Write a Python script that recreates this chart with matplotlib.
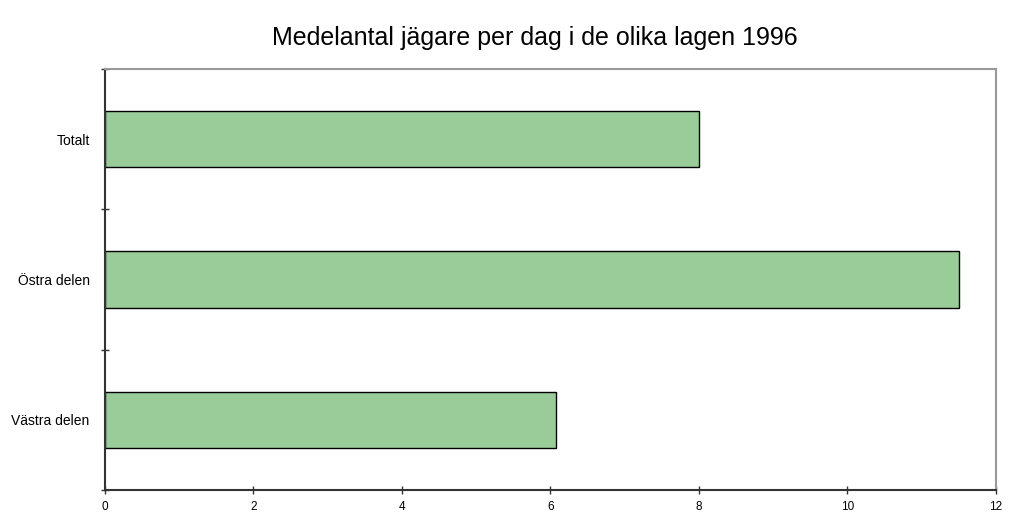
import matplotlib.pyplot as plt
import numpy as np

plt.rcParams['font.family'] = ['Liberation Sans', 'DejaVu Sans']

# data, bottom to top
categories = ["Västra delen", "Östra delen", "Totalt"]
values = [6.07, 11.5, 8.0]
xticks = [0, 2, 4, 6, 8, 10, 12]

fig = plt.figure(figsize=(10.12, 5.14), dpi=100)
ax = fig.add_axes([105 / 1012, 1 - 490 / 514, 891 / 1012, 421 / 514])

y = np.arange(len(categories))
ax.barh(y, values, height=0.4, color="#99cc99", edgecolor="black", linewidth=1)

ax.set_xlim(0, 12)
ax.set_ylim(-0.5, len(categories) - 0.5)
ax.set_xticks(xticks)
ax.set_xticklabels([str(t) for t in xticks], fontsize=8.5)
ax.set_yticks(y)
ax.set_yticklabels(categories, fontsize=10)
ax.tick_params(axis="y", length=0, pad=11)
ax.tick_params(axis="x", direction="inout", length=6, width=1, pad=5, color="#333333")

# category boundary ticks on the y axis
ax.set_yticks(np.arange(-0.5, len(categories), 1.0), minor=True)
ax.tick_params(axis="y", which="minor", direction="inout", length=6, width=1, color="#333333")

for side in ["left", "bottom"]:
    ax.spines[side].set_color("#333333")
    ax.spines[side].set_linewidth(1.5)
for side in ["top", "right"]:
    ax.spines[side].set_color("#999999")
    ax.spines[side].set_linewidth(1.5)

fig.text(0.528, 0.926, "Medelantal jägare per dag i de olika lagen 1996",
         ha="center", va="center", fontsize=18)

fig.savefig("out.png", dpi=100)
